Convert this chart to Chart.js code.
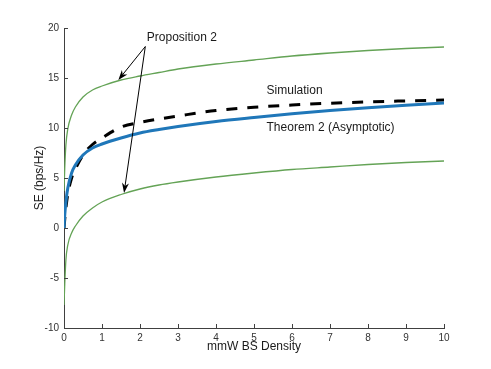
<!DOCTYPE html>
<html>
<head>
<meta charset="utf-8">
<script src="https://cdn.jsdelivr.net/npm/chart.js@4"></script>
<style>
  body { margin: 0; background: #fff; }
  #wrap { width: 491px; height: 369px; }
</style>
</head>
<body>
<div id="wrap"><canvas id="seChart"></canvas></div>
<script>
// Data
const density = [0, 0.02, 0.05, 0.1, 0.2, 0.3, 0.5, 0.75, 1, 1.5, 2, 2.5, 3, 4, 5, 6, 7, 8, 9, 10];
const propUpper = [3.7, 6.0, 8.3, 9.9, 11.3, 12.1, 13.1, 13.8, 14.2, 14.8, 15.2, 15.55, 15.9, 16.4, 16.8, 17.2, 17.5, 17.75, 17.95, 18.1];
const propLower = [-7.7, -5.6, -3.2, -1.7, -0.5, 0.2, 1.2, 2.0, 2.6, 3.35, 3.9, 4.3, 4.6, 5.1, 5.5, 5.85, 6.1, 6.35, 6.55, 6.7];
const theorem = [0, 1.3, 2.6, 4.0, 5.5, 6.3, 7.3, 8.0, 8.4, 9.0, 9.5, 9.85, 10.15, 10.65, 11.05, 11.42, 11.75, 12.03, 12.28, 12.5];
const simulation = [0, 0.9, 2.0, 3.4, 5.0, 5.9, 7.3, 8.35, 9.0, 10.1, 10.55, 10.9, 11.2, 11.75, 12.08, 12.3, 12.48, 12.61, 12.71, 12.8];

const xTicks = [0, 1, 2, 3, 4, 5, 6, 7, 8, 9, 10];
const yTicks = [-10, -5, 0, 5, 10, 15, 20];

const AXIS_COLOR = '#404040';
const FONT = '"Liberation Sans", Arial, Helvetica, sans-serif';

function pts(ys) {
    return density.map((x, i) => ({ x: x, y: ys[i] }));
}

// Text labels and arrows, in data units
const notes = {
    prop: { text: 'Proposition 2', x: 3.1, y: 19.0 },
    sim: { text: 'Simulation', x: 5.33, y: 13.7 },
    thm: { text: 'Theorem 2 (Asymptotic)', x: 5.33, y: 10.07 },
    arrowFrom: { x: 2.14, y: 18.15 },
    arrowTo: [{ x: 1.43, y: 14.8 }, { x: 1.58, y: 3.5 }]
};

// inward tick marks, MATLAB style
const innerTicks = {
    id: 'innerTicks',
    afterDraw(chart) {
        const { ctx, chartArea, scales } = chart;
        ctx.save();
        ctx.strokeStyle = AXIS_COLOR;
        ctx.lineWidth = 1;
        ctx.beginPath();
        xTicks.forEach(v => {
            const px = Math.round(scales.x.getPixelForValue(v)) + 0.5;
            ctx.moveTo(px, chartArea.bottom);
            ctx.lineTo(px, chartArea.bottom - 4);
        });
        yTicks.forEach(v => {
            const py = Math.round(scales.y.getPixelForValue(v)) + 0.5;
            ctx.moveTo(chartArea.left, py);
            ctx.lineTo(chartArea.left + 4, py);
        });
        ctx.stroke();
        ctx.restore();
    }
};

function drawArrow(ctx, x0, y0, x1, y1) {
    const ang = Math.atan2(y1 - y0, x1 - x0);
    const len = 10, half = 3.5, back = 7;
    ctx.beginPath();
    ctx.moveTo(x0, y0);
    ctx.lineTo(x1 - Math.cos(ang) * back, y1 - Math.sin(ang) * back);
    ctx.stroke();
    const bx = x1 - Math.cos(ang) * len, by = y1 - Math.sin(ang) * len;
    const nx = -Math.sin(ang) * half, ny = Math.cos(ang) * half;
    ctx.beginPath();
    ctx.moveTo(x1, y1);
    ctx.lineTo(bx + nx, by + ny);
    ctx.lineTo(x1 - Math.cos(ang) * back, y1 - Math.sin(ang) * back);
    ctx.lineTo(bx - nx, by - ny);
    ctx.closePath();
    ctx.fill();
}

const annotations = {
    id: 'annotations',
    afterDraw(chart) {
        const { ctx, scales } = chart;
        const X = v => scales.x.getPixelForValue(v);
        const Y = v => scales.y.getPixelForValue(v);
        ctx.save();
        ctx.fillStyle = '#1a1a1a';
        ctx.font = '12px ' + FONT;
        ctx.textBaseline = 'middle';
        ctx.textAlign = 'center';
        ctx.fillText(notes.prop.text, X(notes.prop.x), Y(notes.prop.y));
        ctx.textAlign = 'left';
        ctx.fillText(notes.sim.text, X(notes.sim.x), Y(notes.sim.y));
        ctx.fillText(notes.thm.text, X(notes.thm.x), Y(notes.thm.y));

        ctx.strokeStyle = '#000';
        ctx.fillStyle = '#000';
        ctx.lineWidth = 1;
        notes.arrowTo.forEach(t => {
            drawArrow(ctx, X(notes.arrowFrom.x), Y(notes.arrowFrom.y), X(t.x), Y(t.y));
        });
        ctx.restore();
    }
};

document.addEventListener('DOMContentLoaded', function() {
    const ctx = document.getElementById('seChart').getContext('2d');
    new Chart(ctx, {
        type: 'line',
        data: {
            datasets: [
                {
                    label: 'Proposition 2 (upper)',
                    data: pts(propUpper),
                    borderColor: '#64a356',
                    borderWidth: 1.3,
                    cubicInterpolationMode: 'monotone'
                },
                {
                    label: 'Proposition 2 (lower)',
                    data: pts(propLower),
                    borderColor: '#64a356',
                    borderWidth: 1.3,
                    cubicInterpolationMode: 'monotone'
                },
                {
                    label: 'Theorem 2 (Asymptotic)',
                    data: pts(theorem),
                    borderColor: '#1f77b9',
                    borderWidth: 3,
                    cubicInterpolationMode: 'monotone'
                },
                {
                    label: 'Simulation',
                    data: pts(simulation),
                    borderColor: '#000000',
                    borderWidth: 3,
                    borderDash: [11, 10],
                    cubicInterpolationMode: 'monotone'
                }
            ]
        },
        options: {
            responsive: true,
            maintainAspectRatio: false,
            animation: false,
            layout: { padding: { top: 28, right: 47, left: 0, bottom: 0 } },
            elements: { point: { radius: 0 } },
            plugins: {
                legend: { display: false },
                tooltip: { enabled: false }
            },
            scales: {
                x: {
                    type: 'linear',
                    min: 0,
                    max: 10,
                    afterFit: s => { s.height = 41; },
                    afterBuildTicks: s => { s.ticks = xTicks.map(v => ({ value: v })); },
                    grid: { display: false, drawTicks: false },
                    border: { display: true, color: AXIS_COLOR, width: 1 },
                    ticks: { padding: 4, color: '#333', font: { family: FONT, size: 10 }, maxRotation: 0 },
                    title: {
                        display: true,
                        text: 'mmW BS Density',
                        color: '#1a1a1a',
                        font: { family: FONT, size: 12 },
                        padding: { top: 0, bottom: 15 }
                    }
                },
                y: {
                    type: 'linear',
                    min: -10,
                    max: 20,
                    afterFit: s => { s.width = 64; },
                    afterBuildTicks: s => { s.ticks = yTicks.map(v => ({ value: v })); },
                    grid: { display: false, drawTicks: false },
                    border: { display: true, color: AXIS_COLOR, width: 1 },
                    ticks: { padding: 5, color: '#333', font: { family: FONT, size: 10 } },
                    title: {
                        display: true,
                        text: 'SE (bps/Hz)',
                        color: '#1a1a1a',
                        font: { family: FONT, size: 12 },
                        padding: { top: 32, bottom: 0 }
                    }
                }
            }
        },
        plugins: [innerTicks, annotations]
    });
});
</script>
</body>
</html>
